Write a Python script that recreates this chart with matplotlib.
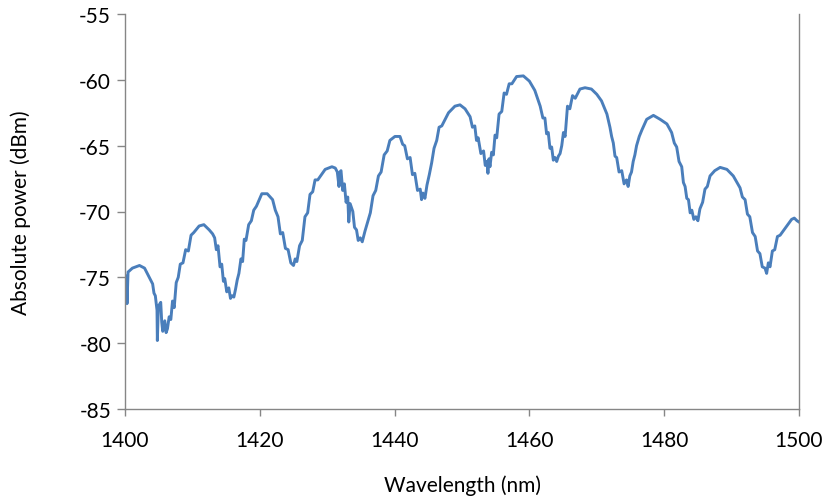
import matplotlib
matplotlib.use("Agg")
import matplotlib.pyplot as plt

# Wavelength (nm)
wavelength = [
    1400.0, 1400.1, 1400.2, 1400.3, 1400.45, 1401.1, 1402.15, 1402.9, 1403.7, 1404.1,
    1404.3, 1404.5, 1404.75, 1404.8, 1404.95, 1405.3, 1405.45, 1405.6, 1405.9, 1406.1,
    1406.3, 1406.55, 1406.8, 1407.05, 1407.3, 1407.6, 1407.9, 1408.2, 1408.6, 1409.0,
    1409.4, 1409.8, 1410.2, 1411.0, 1411.7, 1412.5, 1413.0, 1413.3, 1413.55, 1413.8,
    1414.1, 1414.35, 1414.6, 1414.8, 1415.1, 1415.4, 1415.65, 1415.9, 1416.15, 1416.4,
    1416.65, 1416.9, 1417.2, 1417.45, 1417.7, 1417.95, 1418.35, 1418.75, 1419.1, 1419.5,
    1420.3, 1421.1, 1421.9, 1422.3, 1422.7, 1423.05, 1423.4, 1423.8, 1424.2, 1424.6,
    1425.0, 1425.25, 1425.5, 1425.9, 1426.3, 1426.7, 1427.1, 1427.45, 1427.85, 1428.2,
    1428.6, 1429.7, 1430.7, 1431.2, 1431.5, 1431.75, 1431.9, 1432.05, 1432.3, 1432.55,
    1432.8, 1433.05, 1433.2, 1433.4, 1433.8, 1434.05, 1434.35, 1434.6, 1434.9, 1435.2,
    1435.6, 1436.0, 1436.4, 1436.8, 1437.2, 1437.6, 1438.0, 1438.45, 1438.9, 1439.3,
    1440.05, 1440.8, 1441.2, 1441.5, 1441.9, 1442.3, 1442.65, 1443.0, 1443.4, 1443.8,
    1444.0, 1444.2, 1444.5, 1444.8, 1445.15, 1445.5, 1445.85, 1446.25, 1446.6, 1447.0,
    1448.0, 1448.95, 1449.7, 1450.45, 1451.2, 1451.55, 1451.9, 1452.15, 1452.4, 1452.8,
    1453.2, 1453.45, 1453.7, 1453.85, 1454.0, 1454.15, 1454.4, 1454.65, 1454.9, 1455.15,
    1455.5, 1455.9, 1456.25, 1456.6, 1457.0, 1457.4, 1458.1, 1459.1, 1460.0, 1460.8,
    1461.6, 1462.0, 1462.3, 1462.55, 1462.8, 1463.05, 1463.3, 1463.55, 1463.8, 1464.05,
    1464.3, 1464.55, 1464.8, 1465.05, 1465.3, 1465.65, 1466.0, 1466.4, 1466.8, 1467.5,
    1468.25, 1469.2, 1470.0, 1470.7, 1471.5, 1471.95, 1472.2, 1472.45, 1472.7, 1472.95,
    1473.3, 1473.7, 1474.05, 1474.4, 1474.65, 1474.9, 1475.15, 1475.4, 1475.65, 1475.9,
    1476.3, 1476.7, 1477.4, 1478.4, 1479.4, 1480.4, 1481.1, 1481.5, 1481.85, 1482.2,
    1482.6, 1482.85, 1483.1, 1483.35, 1483.6, 1483.85, 1484.1, 1484.4, 1484.7, 1485.0,
    1485.3, 1485.7, 1486.05, 1486.4, 1486.8, 1487.5, 1488.3, 1489.3, 1490.25, 1491.25,
    1491.6, 1492.0, 1492.35, 1492.7, 1493.1, 1493.5, 1493.85, 1494.2, 1494.55, 1494.95,
    1495.2, 1495.45, 1495.7, 1496.05, 1496.4, 1496.8, 1497.2, 1498.2, 1498.9, 1499.3,
    1499.7, 1500.0,
]

# Absolute power (dBm)
power_dbm = [
    -75.5, -76.8, -74.9, -77.0, -74.6, -74.3, -74.1, -74.3, -75.1, -75.5,
    -76.2, -76.4, -77.5, -79.8, -77.2, -76.9, -78.4, -79.1, -78.3, -79.2,
    -78.9, -78.0, -78.2, -76.8, -77.3, -75.4, -75.0, -74.0, -73.9, -72.9,
    -73.0, -71.8, -71.6, -71.1, -71.0, -71.4, -71.7, -72.0, -72.9, -72.6,
    -74.2, -74.0, -75.3, -75.1, -76.1, -75.8, -76.6, -76.4, -76.5, -75.9,
    -75.2, -74.7, -73.6, -73.8, -72.1, -72.2, -71.0, -70.7, -69.9, -69.6,
    -68.65, -68.65, -69.1, -69.9, -70.4, -71.7, -71.6, -72.8, -72.9, -73.9,
    -74.1, -73.6, -73.8, -72.6, -72.2, -70.4, -70.1, -68.7, -68.5, -67.6,
    -67.6, -66.8, -66.6, -66.7, -67.0, -68.1, -67.0, -66.9, -68.4, -67.9,
    -69.3, -68.9, -70.8, -69.4, -70.0, -71.2, -71.4, -72.2, -72.0, -72.3,
    -71.5, -70.8, -70.1, -68.8, -68.4, -67.3, -67.0, -65.7, -65.4, -64.6,
    -64.3, -64.3, -64.9, -65.0, -66.0, -65.9, -67.2, -67.1, -68.4, -68.3,
    -69.1, -68.6, -69.0, -68.0, -67.2, -66.3, -65.2, -64.6, -63.6, -63.5,
    -62.5, -62.0, -61.9, -62.2, -62.8, -63.6, -63.5, -64.6, -64.4, -65.6,
    -65.4, -66.5, -66.2, -67.1, -66.0, -66.6, -65.5, -65.7, -64.2, -64.4,
    -62.6, -62.4, -61.0, -61.1, -60.3, -60.3, -59.75, -59.7, -60.1, -60.8,
    -62.0, -62.9, -62.9, -64.1, -64.0, -65.2, -65.1, -66.1, -65.9, -66.2,
    -65.8, -65.6, -65.0, -64.0, -64.3, -62.0, -62.2, -61.2, -61.4, -60.7,
    -60.6, -60.7, -61.1, -61.6, -62.6, -63.6, -64.3, -64.8, -65.8, -65.9,
    -67.0, -66.9, -67.9, -67.6, -68.1, -67.3, -67.0, -66.2, -65.7, -65.0,
    -64.3, -63.8, -63.0, -62.7, -63.0, -63.35, -64.0, -64.8, -65.1, -66.2,
    -66.6, -67.8, -68.1, -69.0, -69.1, -70.1, -69.9, -70.6, -70.4, -70.7,
    -69.8, -69.3, -68.3, -68.1, -67.3, -66.9, -66.65, -66.8, -67.3, -68.2,
    -68.9, -69.1, -70.2, -70.4, -71.6, -71.9, -73.0, -73.2, -74.2, -74.3,
    -74.7, -73.9, -74.2, -73.0, -72.9, -71.9, -71.8, -71.1, -70.6, -70.5,
    -70.7, -70.8,
]

x_ticks = [1400, 1420, 1440, 1460, 1480, 1500]
y_ticks = [-85, -80, -75, -70, -65, -60, -55]

plt.rcParams['font.family'] = ['Lato', 'DejaVu Sans']

fig = plt.figure(figsize=(8.25, 5.02), dpi=100)
ax = fig.add_axes([125 / 825, 1 - 410 / 502, (799 - 125) / 825, (410 - 15) / 502])

ax.plot(wavelength, power_dbm, color='#4A7EBB', linewidth=2.1, solid_joinstyle='round')

ax.set_xlim(1400, 1500)
ax.set_ylim(-85, -55)
ax.set_xticks(x_ticks)
ax.set_yticks(y_ticks)
ax.set_xticklabels([str(v) for v in x_ticks])
ax.set_yticklabels([str(v) for v in y_ticks])

spine_color = '#868686'
for side in ['left', 'bottom', 'right']:
    ax.spines[side].set_color(spine_color)
    ax.spines[side].set_linewidth(1.0)
ax.spines['top'].set_visible(False)

ax.tick_params(axis='both', direction='out', length=6, width=1.0, color=spine_color,
               labelsize=15, labelcolor='black')
ax.tick_params(axis='y', pad=4)
ax.tick_params(axis='x', pad=10, length=5)
ax.tick_params(right=False)

ax.set_xlabel('Wavelength (nm)', fontsize=15)
ax.set_ylabel('Absolute power (dBm)', fontsize=15)
ax.xaxis.set_label_coords(0.5, -0.165)
ax.yaxis.set_label_coords(-0.14, 0.5)

fig.savefig('out.png', dpi=100)
